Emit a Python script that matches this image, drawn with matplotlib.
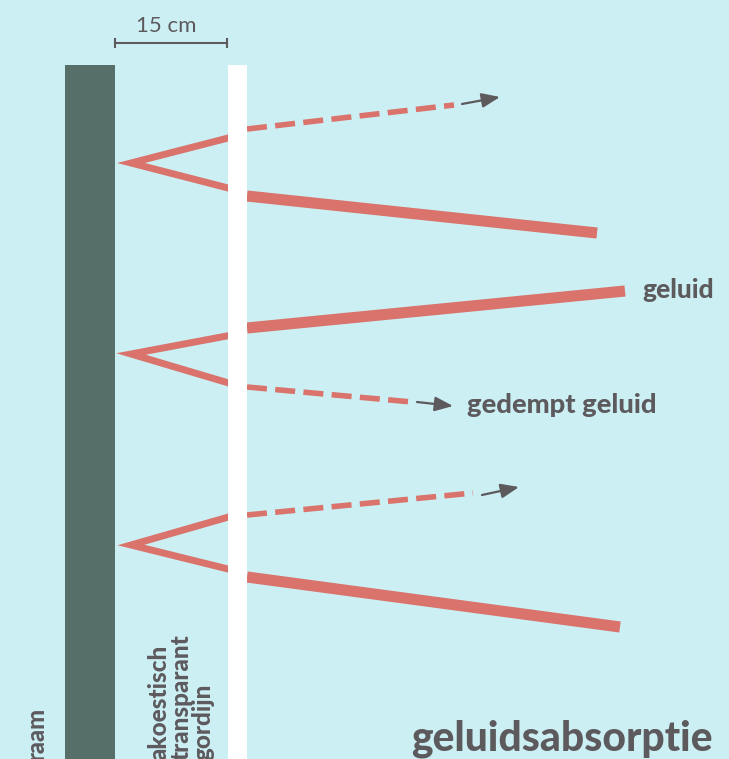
import matplotlib
matplotlib.use("Agg")
import matplotlib.pyplot as plt

# kleuren
bg = "#CCEFF3"
wall_col = "#566F68"
ray_col = "#D9736B"
text_col = "#5D5A5E"

# geometrie (pixels, y naar beneden)
wall_x = [65, 115]
curtain_x = [228, 247]
top_y = 65

# per straal: inkomend dik deel, dunne V achter het gordijn, gestippelde uitgang, pijl
thick_x0 = [247, 247, 247]
thick_y0 = [196, 328, 577]
thick_x1 = [597, 625, 620]
thick_y1 = [233, 291, 627]

v_in_y = [189, 335, 570]      # dunne lijn, inkomend bij gordijn
v_tip_x = [131, 131, 131]
v_tip_y = [163, 354, 545]
v_out_y = [137, 384, 516]     # dunne lijn, uitgaand bij gordijn

dash_y0 = [129, 387, 515]
dash_x1 = [454, 412, 473]
dash_y1 = [105, 402, 493]

arr_x0 = [462, 417, 482]
arr_y0 = [104, 402, 495]
arr_x1 = [500, 453, 519]
arr_y1 = [97, 406, 487]

fig = plt.figure(figsize=(7.29, 7.59), dpi=100)
fig.patch.set_facecolor(bg)
ax = fig.add_axes([0, 0, 1, 1])
ax.set_facecolor(bg)
ax.set_xlim(0, 729)
ax.set_ylim(759, 0)
ax.axis("off")

ax.fill_between(wall_x, top_y, 760, color=wall_col, lw=0, zorder=1)

for i in range(3):
    ax.plot([thick_x0[i], thick_x1[i]], [thick_y0[i], thick_y1[i]], color=ray_col,
            lw=8, solid_capstyle="butt", zorder=2)
    ax.plot([curtain_x[0] + 4, v_tip_x[i], curtain_x[0] + 4], [v_in_y[i], v_tip_y[i], v_out_y[i]],
            color=ray_col, lw=5, solid_joinstyle="miter", solid_capstyle="butt", zorder=2)
    ax.plot([curtain_x[1], dash_x1[i]], [dash_y0[i], dash_y1[i]], color=ray_col, lw=4,
            linestyle=(0, (3.6, 1.5)), dash_capstyle="butt", zorder=2)
    ax.annotate("", xy=(arr_x1[i], arr_y1[i]), xytext=(arr_x0[i], arr_y0[i]),
                arrowprops=dict(arrowstyle="-|>,head_length=0.55,head_width=0.22",
                                color=text_col, lw=1.6, mutation_scale=20,
                                shrinkA=0, shrinkB=0), zorder=3)

ax.fill_between(curtain_x, top_y, 760, color="white", lw=0, zorder=4)

# maatlijn 15 cm
ax.plot([115, 227], [43, 43], color=text_col, lw=1.5)
ax.plot([115, 115], [39, 47], color=text_col, lw=1.5)
ax.plot([227, 227], [39, 47], color=text_col, lw=1.5)
ax.text(166, 32, "15 cm", ha="center", va="baseline", fontsize=16, color=text_col,
        family="Lato")

font = dict(family="Lato", weight="black", color=text_col)
ax.text(44, 760, "raam", rotation=90, rotation_mode="anchor", ha="left", va="baseline",
        fontsize=17, **font)
for x, s in zip([167, 189, 211], ["akoestisch", "transparant", "gordijn"]):
    ax.text(x, 760, s, rotation=90, rotation_mode="anchor", ha="left", va="baseline",
            fontsize=17.5, zorder=5, **font)

ax.text(642, 298, "geluid", ha="left", va="baseline", fontsize=19, **font)
ax.text(467, 413, "gedempt geluid", ha="left", va="baseline", fontsize=19.7, **font)
ax.text(713, 751, "geluidsabsorptie", ha="right", va="baseline", fontsize=29.3, **font)

fig.savefig("out.png", dpi=100, facecolor=bg)
